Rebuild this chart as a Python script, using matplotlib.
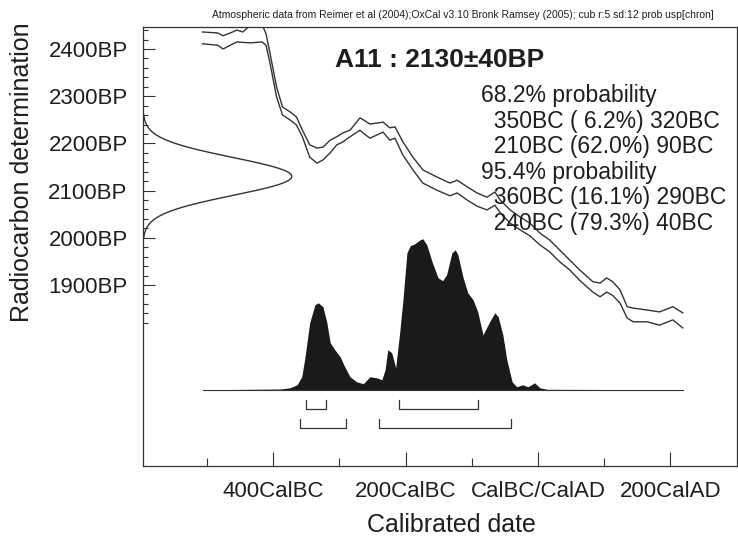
# OxCal 校正图 (A11 : 2130±40BP)
import matplotlib
matplotlib.use('Agg')
import matplotlib.pyplot as plt
import numpy as np

plt.rcParams['font.family'] = ['Liberation Sans', 'DejaVu Sans']

# 测年结果
sample_name = 'A11'
bp_mean = 2130
bp_sd = 40

# 校正曲线 (上/下边界), 年份: 负数为 BC
curve_year = [-507, -484, -476, -465, -455, -446, -435, -417, -411, -405, -395, -386, -375, -365,
              -356, -345, -334, -325, -314, -304, -295, -284, -269, -264, -254, -234, -224, -216,
              -204, -189, -174, -153, -133, -122, -107, -92, -77, -65, -57, -42, -27, -12, 3, 18,
              33, 48, 63, 83, 94, 104, 113, 124, 135, 144, 165, 184, 204, 219]
curve_upper = [2436, 2434, 2428, 2434, 2440, 2436, 2450, 2452, 2432, 2391, 2319, 2277, 2267, 2256,
               2228, 2197, 2190, 2192, 2207, 2214, 2222, 2228, 2254, 2250, 2241, 2245, 2233, 2235,
               2203, 2171, 2144, 2129, 2116, 2122, 2108, 2095, 2086, 2097, 2080, 2059, 2044, 2031,
               2010, 1995, 1974, 1953, 1932, 1907, 1904, 1915, 1907, 1890, 1854, 1851, 1847, 1843,
               1854, 1841]
curve_lower = [2411, 2408, 2400, 2408, 2415, 2414, 2413, 2415, 2408, 2370, 2298, 2260, 2250, 2239,
               2214, 2171, 2158, 2165, 2180, 2197, 2203, 2214, 2228, 2222, 2211, 2224, 2207, 2211,
               2175, 2144, 2116, 2101, 2089, 2095, 2080, 2067, 2059, 2069, 2053, 2031, 2017, 2004,
               1985, 1970, 1949, 1932, 1910, 1885, 1875, 1885, 1878, 1862, 1830, 1822, 1822, 1815,
               1826, 1809]

# 校正后概率分布 (相对值)
prob_year = [-506, -390, -375, -364, -357, -352, -345, -337, -332, -325, -319, -314, -307, -299,
             -292, -284, -274, -264, -254, -243, -236, -231, -227, -221, -215, -209, -204, -198,
             -193, -186, -178, -174, -168, -160, -151, -144, -138, -130, -125, -121, -113, -106,
             -98, -91, -83, -73, -65, -60, -53, -47, -39, -32, -23, -15, -5, 3, 14, 219]
prob_rel = [0, 0.005, 0.013, 0.033, 0.086, 0.219, 0.444, 0.563, 0.576, 0.550, 0.444, 0.311, 0.265,
            0.219, 0.152, 0.086, 0.053, 0.040, 0.086, 0.079, 0.066, 0.132, 0.265, 0.245, 0.146,
            0.377, 0.596, 0.907, 0.954, 0.967, 0.993, 1.0, 0.960, 0.848, 0.742, 0.722, 0.762,
            0.907, 0.927, 0.894, 0.742, 0.642, 0.596, 0.517, 0.364, 0.450, 0.510, 0.483, 0.364,
            0.199, 0.053, 0.020, 0.033, 0.020, 0.046, 0.013, 0.003, 0]

# 置信区间
range_68 = [(-350, -320), (-210, -90)]
range_95 = [(-360, -290), (-240, -40)]
prob_lines = ['68.2% probability',
              '  350BC ( 6.2%) 320BC',
              '  210BC (62.0%) 90BC',
              '95.4% probability',
              '  360BC (16.1%) 290BC',
              '  240BC (79.3%) 40BC']

x_ticks = [-400, -200, 0, 200]
x_ticklabels = ['400CalBC', '200CalBC', 'CalBC/CalAD', '200CalAD']
y_ticks = [1900, 2000, 2100, 2200, 2300, 2400]
y_ticklabels = ['1900BP', '2000BP', '2100BP', '2200BP', '2300BP', '2400BP']

line_c = '#333333'
text_c = '#1e1e1e'

fig = plt.figure(figsize=(7.38, 5.42), dpi=100)
ax = fig.add_axes([143 / 738, 76 / 542, 594 / 738, 439 / 542])
xmin, xmax = -597, 301
ax.set_xlim(xmin, xmax)
ax.set_ylim(1516.5, 2446.6)

# 左侧正态分布
bp = np.linspace(bp_mean - 3.25 * bp_sd, bp_mean + 3.25 * bp_sd, 300)
dens = np.exp(-0.5 * ((bp - bp_mean) / bp_sd) ** 2)
ax.plot(xmin + 225 * dens, bp, color=line_c, lw=1.0)

# 校正曲线
ax.plot(curve_year, curve_upper, color=line_c, lw=1.0)
ax.plot(curve_year, curve_lower, color=line_c, lw=1.0)

# 概率分布
base = 1678
scale = 320
py = base + np.array(prob_rel) * scale
ax.fill_between(prob_year, base, py, color='#1a1a1a', lw=0)
ax.plot([prob_year[0], prob_year[-1]], [base, base], color=line_c, lw=0.8)

# 区间括号
tr = ax.get_xaxis_transform()
for ranges, y0, y1 in [(range_68, 0.130, 0.150), (range_95, 0.0866, 0.107)]:
    for a, b in ranges:
        ax.plot([a, a, b, b], [y1, y0, y0, y1], color=line_c, lw=0.9, transform=tr)

# 坐标轴
ax.set_xticks(x_ticks)
ax.set_xticklabels(x_ticklabels)
ax.set_xticks([-500, -300, -100, 100], minor=True)
ax.set_yticks(y_ticks)
ax.set_yticklabels(y_ticklabels)
ax.set_yticks([v for v in range(1820, 2441, 20) if v % 100 != 0], minor=True)
ax.tick_params(axis='x', which='major', direction='in', length=10, width=0.8, pad=11,
               labelsize=16, colors=line_c, labelcolor=text_c)
ax.tick_params(axis='x', which='minor', direction='in', length=5.8, width=0.8, colors=line_c)
ax.tick_params(axis='y', which='major', direction='in', length=8.5, width=0.8, pad=11,
               labelsize=16, colors=line_c, labelcolor=text_c)
ax.tick_params(axis='y', which='minor', direction='in', length=3.5, width=0.8, colors=line_c)
for spine in ax.spines.values():
    spine.set_color(line_c)
    spine.set_linewidth(0.9)

# 文字
ax.text((335 - 143) / 594, (466 - 67) / 439, f'{sample_name} : {bp_mean}±{bp_sd}BP',
        transform=ax.transAxes, fontsize=19, fontweight='bold', color=text_c, va='baseline')
for i, s in enumerate(prob_lines):
    ax.text((481 - 143) / 594, (466 - 102 - 25.6 * i) / 439, s, transform=ax.transAxes,
            fontsize=16.5, color=text_c, va='baseline')

fig.text(212 / 738, 1 - 18 / 542,
         'Atmospheric data from Reimer et al (2004);OxCal v3.10 Bronk Ramsey (2005); cub r:5 sd:12 prob usp[chron]',
         fontsize=7.5, color=text_c, va='baseline')
fig.text(451 / 738, 1 - 532 / 542, 'Calibrated date', fontsize=18, color=text_c,
         ha='center', va='baseline')
fig.text(22 / 738, 1 - 172 / 542, 'Radiocarbon determination', fontsize=18, color=text_c,
         rotation=90, ha='center', va='center')

fig.savefig('out.png', dpi=100)
